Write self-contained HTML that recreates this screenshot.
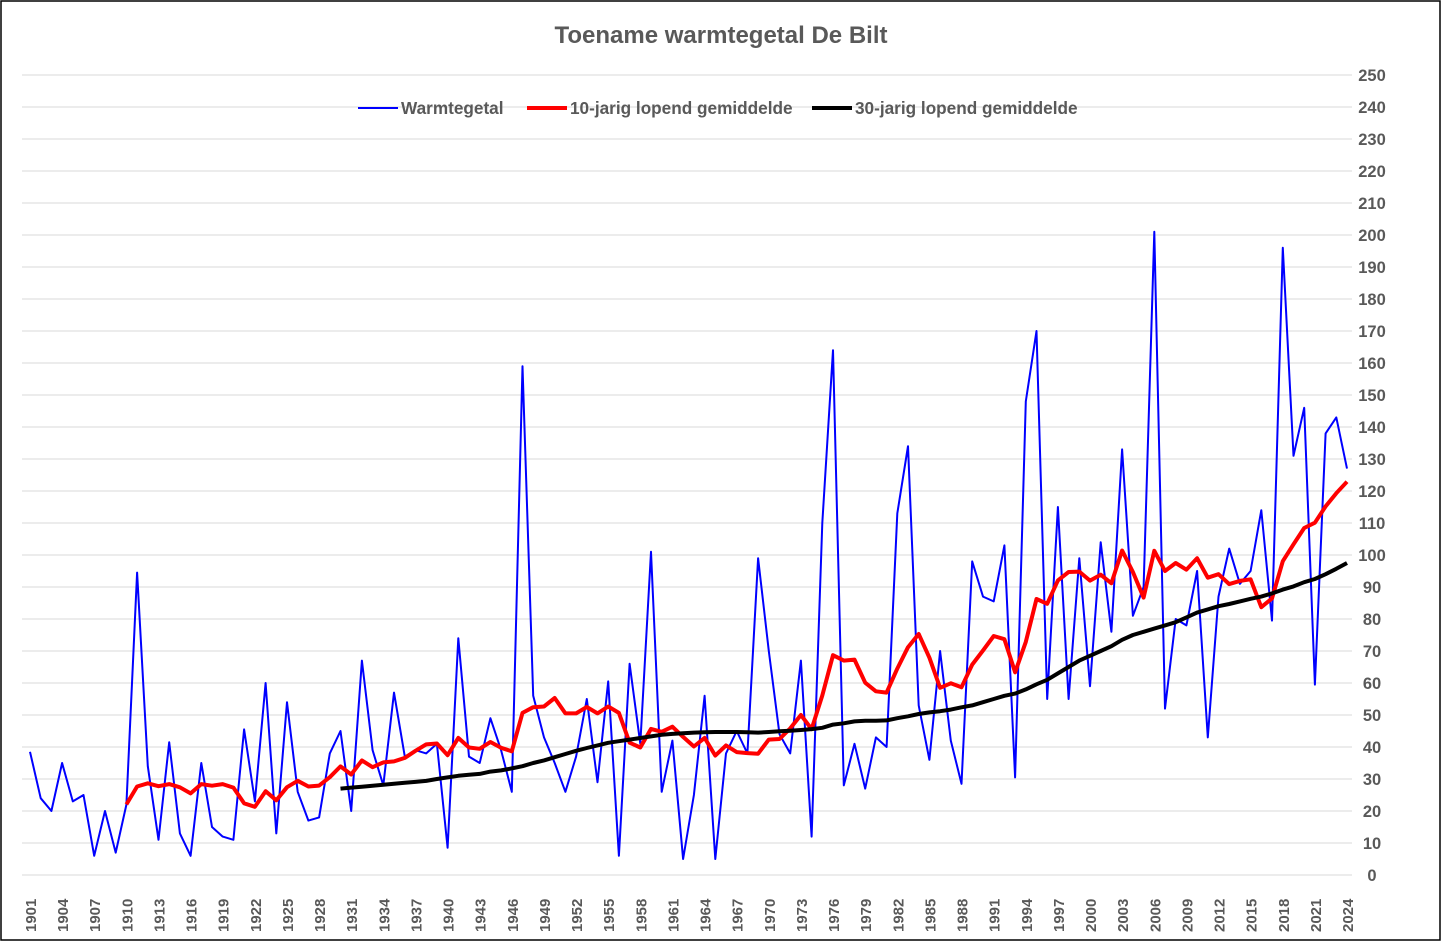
<!DOCTYPE html>
<html><head><meta charset="utf-8"><style>
body{margin:0;background:#fff}
svg{display:block;font-family:"Liberation Sans",sans-serif}
</style></head><body>
<svg id="c" width="1445" height="946">
<rect x="1" y="1" width="1439" height="939" fill="#fff" stroke="#000" stroke-width="1.5"/>
<text x="721" y="43" text-anchor="middle" font-size="24" font-weight="bold" fill="#595959">Toename warmtegetal De Bilt</text>
<g id="grid"></g><g id="series"></g><g id="axes"></g>
<g font-size="17.2" font-weight="bold" fill="#595959">
<line x1="358" y1="108" x2="398" y2="108" stroke="#0000ff" stroke-width="2"/>
<text x="401" y="114">Warmtegetal</text>
<line x1="527" y1="108" x2="567" y2="108" stroke="#ff0000" stroke-width="4"/>
<text x="570" y="114">10-jarig lopend gemiddelde</text>
<line x1="812" y1="108" x2="852" y2="108" stroke="#000" stroke-width="4"/>
<text x="855" y="114">30-jarig lopend gemiddelde</text>
</g>
</svg>
<script>
const startYear = 1901;
const values = [38.5,24,20,35,23,25,6,20,7,22,94.5,34,11,41.5,13,6,35,15,12,11,45.5,23,60,13,54,26,17,18,38,45,20,67,39,28,57,37,39,38,41,8.5,74,37,35,49,39,26,159,56,43,35,26,37,55,29,60.5,6,66,41,101,26,42,5,25,56,5,38,45,38,99,70,44,38,67,12,110,164,28,41,27,43,40,113,134,53,36,70,42,28.5,98,87,85.5,103,30.5,148,170,55,115,55,99,59,104,76,133,81,90,201,52,80,78,95,43,87,102,91,95,114,79.5,196,131,146,59.5,138,143,127];
const ma30StartYear = 1930;
const ma30 = [27,27.3,27.6,27.9,28.2,28.5,28.8,29.1,29.4,30,30.5,31,31.3,31.6,32.3,32.7,33.3,34,35,35.8,36.8,37.8,38.8,39.7,40.5,41.3,41.8,42.3,42.8,43.3,43.8,44.1,44.3,44.5,44.6,44.7,44.7,44.7,44.6,44.5,44.7,44.9,45.1,45.3,45.6,46,47,47.4,48,48.2,48.2,48.3,49,49.6,50.3,50.8,51.2,51.7,52.4,53,54,55,56,56.7,58,59.6,61,63,65,67,68.5,70,71.5,73.5,75,76,77,78,79,80.5,82,83,84,84.7,85.5,86.3,87,88,89.2,90.2,91.5,92.5,94,95.7,97.5];
const yTicks = [0,10,20,30,40,50,60,70,80,90,100,110,120,130,140,150,160,170,180,190,200,210,220,230,240,250];
const NS='http://www.w3.org/2000/svg';
const x0=30,x1=1347,y0=875,y1=75;
const n=values.length;
const X=i=>x0+(x1-x0)*i/(n-1);
const Y=v=>y0-(y0-y1)*v/250;
function mk(t,a,p){const e=document.createElementNS(NS,t);for(const k in a)e.setAttribute(k,a[k]);p.appendChild(e);return e;}
const grid=document.getElementById('grid'),axes=document.getElementById('axes'),ser=document.getElementById('series');
yTicks.forEach(v=>{
  const l=mk('line',{x1:22,x2:1352,y1:Y(v),y2:Y(v),stroke:'#d9d9d9','stroke-width':1},grid);
  
  
  const t=mk('text',{x:1372,y:Y(v)+6,'text-anchor':'middle','font-size':16.5,'font-weight':'bold',fill:'#595959'},axes);
  t.textContent=v;
  
  
});
for(let i=0;i<n;i+=3){
  const yr=startYear+i;
  const t=mk('text',{transform:`translate(${X(i)+6},${932}) rotate(-90)`,'font-size':15,'font-weight':'bold',fill:'#595959'},axes);
  t.textContent=yr;
  
  
}
function pts(arr){return arr.map(([i,v])=>X(i).toFixed(1)+','+Y(v).toFixed(1)).join(' ');}
function ma(w){const r=[];for(let i=w-1;i<n;i++){let s=0;for(let j=i-w+1;j<=i;j++)s+=values[j];r.push([i,s/w]);}return r;}
const b=mk('polyline',{points:pts(values.map((v,i)=>[i,v])),fill:'none',stroke:'#0000ff','stroke-width':2,'stroke-linejoin':'round'},ser);


const r=mk('polyline',{points:pts(ma(10)),fill:'none',stroke:'#ff0000','stroke-width':4,'stroke-linejoin':'round'},ser);


const k=mk('polyline',{points:pts(ma30.map((v,i)=>[ma30StartYear-startYear+i,v])),fill:'none',stroke:'#000','stroke-width':4,'stroke-linejoin':'round'},ser);


</script>
</body></html>
